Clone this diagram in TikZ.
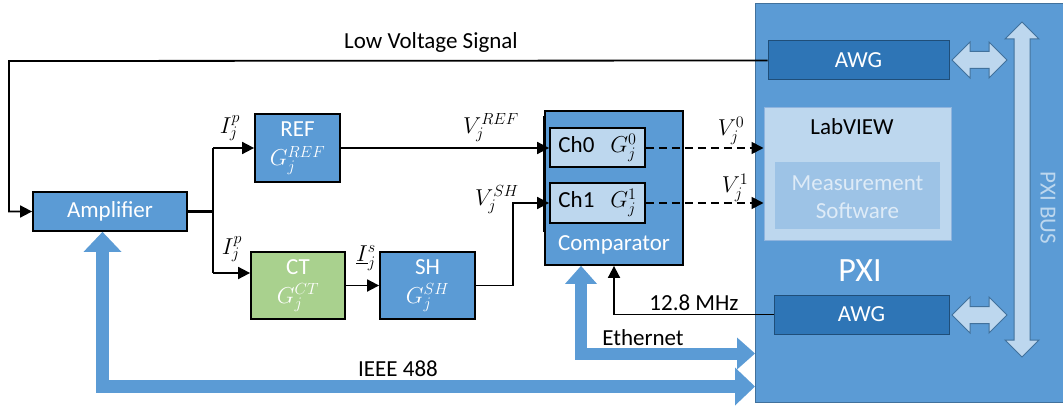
\RequirePackage{fix-cm}
\documentclass[tikz,border=0pt]{standalone}
\usepackage{fontspec}
\setmainfont{Carlito}
\usetikzlibrary{arrows.meta,calc}
\definecolor{mblue}{HTML}{5B9BD5}
\definecolor{dblue}{HTML}{2E75B6}
\definecolor{dborder}{HTML}{1F4E79}
\definecolor{pborder}{HTML}{41719C}
\definecolor{lblue}{HTML}{BDD7EE}
\definecolor{lborder}{HTML}{8FB4DE}
\definecolor{msblue}{HTML}{9DC3E6}
\definecolor{mstext}{HTML}{DEEBF7}
\definecolor{ctgreen}{HTML}{A9D18E}
\begin{document}
\begin{tikzpicture}[x=1pt,y=-1pt,
  fnt/.style={font=\fontsize{23}{25}\selectfont},
  lbl/.style={fnt,inner sep=0pt},
  box/.style={draw=black,line width=1.8pt,fill=mblue,text=white,fnt,align=center,inner sep=0pt},
  chbox/.style={draw=black,line width=1.8pt,fill=lblue,text=black,fnt,inner sep=0pt,minimum width=95pt,minimum height=39pt},
  awgbox/.style={draw=dborder,line width=1pt,fill=dblue,text=white,fnt,inner sep=0pt,minimum width=180pt,minimum height=39pt},
  conn/.style={line width=1.8pt,-{Triangle[length=12pt,width=12pt]}},
  dconn/.style={conn,dash pattern=on 8pt off 5pt},
  fatA/.style={line width=13pt,draw=mblue,line join=miter,
    {Triangle[width=38pt,length=20pt,line width=0pt]}-{Triangle[width=38pt,length=20pt,line width=0pt]}},
  fatB/.style={line width=12pt,draw=mblue,line join=miter,
    {Triangle[width=32pt,length=18pt,line width=0pt]}-{Triangle[width=32pt,length=18pt,line width=0pt]}},
  busarrow/.style={draw=pborder,fill=lblue,line width=1pt,line join=miter}
]
\useasboundingbox (0,0) rectangle (1063,409);

% PXI chassis
\node[draw=pborder,fill=mblue,line width=1pt,minimum width=310pt,minimum height=399pt,anchor=north west,inner sep=0pt] (pxi) at (755,3) {};
\node[awgbox,minimum width=181pt] (awg1) at (858.5,60.5) {AWG};
\node[draw=lborder,line width=1pt,fill=lblue,minimum width=187pt,minimum height=132pt,inner sep=0pt] (lab) at (857.5,174) {};
\node[lbl,text=black] (labt) at (852,127) {LabVIEW};
\node[fill=msblue,minimum width=165pt,minimum height=67pt,inner sep=0pt] (ms) at (857.5,195.5) {};
\node[lbl,text=mstext,align=center,font=\fontsize{23}{28}\selectfont] (mst) at (857.5,197) {Measurement\\Software};
\node[lbl,text=white,font=\fontsize{34}{36}\selectfont] (pxit) at (860,271) {PXI};
\node[awgbox,minimum width=175pt] (awg2) at (861.5,314.5) {AWG};

% bus arrows
\coordinate (da1) at (952,60);
\coordinate (da2) at (952,315);
\coordinate (bus) at (1022,22);
\foreach \c in {da1,da2}{
  \filldraw[busarrow] (\c) -- ++(18,-18) -- ++(0,9.5) -- ++(19,0) -- ++(0,-9.5) -- ++(18,18)
    -- ++(-18,18) -- ++(0,-9.5) -- ++(-19,0) -- ++(0,9.5) -- cycle;
}
\filldraw[busarrow] (bus) -- ++(17,17) -- ++(-9,0) -- ++(0,301) -- ++(9,0) -- ++(-17,17)
    -- ++(-17,-17) -- ++(9,0) -- ++(0,-301) -- ++(-9,0) -- cycle;
\node[lbl,text=lblue,rotate=-90] (bust) at (1048,208) {PXI BUS};

% blocks
\node[box,minimum width=154pt,minimum height=39pt] (amp) at (110,211.5) {Amplifier};
\node[box,minimum width=85pt,minimum height=68pt] (ref) at (297.5,148) {REF\\[4pt]$G_j^{REF}$};
\node[box,fill=ctgreen,minimum width=94pt,minimum height=67pt] (ct) at (298,285.5) {CT\\[4pt]$G_j^{CT}$};
\node[box,minimum width=95pt,minimum height=67pt] (sh) at (427.5,285.5) {SH\\[4pt]$G_j^{SH}$};
\node[box,minimum width=138pt,minimum height=154pt] (comp) at (614,188) {};
\node[lbl,text=white] (compt) at (614,245) {Comparator};
\node[chbox] (ch0) at (597.5,147.5) {Ch0\hspace{16pt}$G_j^0$};
\node[chbox,minimum height=40pt] (ch1) at (597.5,203) {Ch1\hspace{16pt}$G_j^1$};
\draw[line width=3pt] ($(comp.north west)+(0,6)$) -- ($(comp.north west)+(0,122)$);

% connectors
\coordinate (lvA) at (9,61);
\draw[conn] (awg1.west) -- (lvA) |- (amp.west);
\node[lbl] (lvt) at (431,42) {Low Voltage Signal};

\coordinate (jn) at (213,211.5);
\draw[line width=3pt] (amp.east) -- (jn);
\draw[line width=1.8pt] (213,148) -- (213,273);
\draw[conn] (213,148) -- (ref.west);
\draw[conn] (213,273) -- (ct.west |- 0,273);
\node[lbl] (ip1) at (230,128) {$I_j^p$};
\node[lbl] (ip2) at (232,249) {$I_j^p$};

\draw[conn] (ct.east) -- (sh.west);
\node[lbl] (is) at (366,258) {$\underline{I}_j^s$};

\draw[conn] (ref.east) -- (ch0.west |- ref.east);
\node[lbl] (vref) at (491,128) {$V_j^{REF}$};
\draw[conn] (sh.east) -| (513,203) -- (ch1.west);
\node[lbl] (vsh) at (497,200) {$V_j^{SH}$};

\draw[dconn] (ch0.east |- 0,148) -- (lab.west |- 0,148);
\draw[dconn] (ch1.east) -- (lab.west |- ch1.east);
\node[lbl] (v0) at (731,131) {$V_j^0$};
\node[lbl] (v1) at (735,188) {$V_j^1$};

\draw[conn] (awg2.west) -| (comp.south);
\node[lbl] (mhz) at (694,303) {12.8 MHz};

\draw[fatB] ($(comp.south)+(-33,0)$) |- ($(pxi.south west)+(0,-49.5)$);
\node[lbl] (eth) at (643,338) {Ethernet};
\draw[fatA] ($(amp.south)+(-7.5,0)$) |- ($(pxi.south west)+(0,-16.5)$);
\node[lbl] (ieee) at (398,369) {IEEE 488};
\end{tikzpicture}
\end{document}
